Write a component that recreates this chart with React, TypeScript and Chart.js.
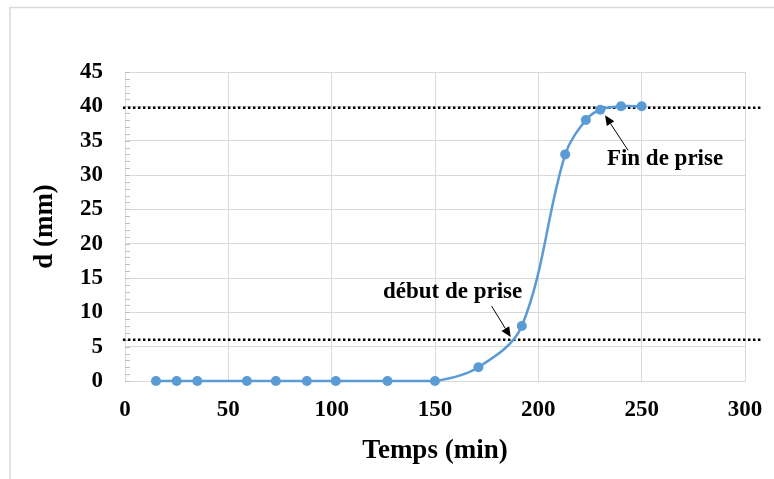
import React, { useEffect, useRef } from "react";
import { Chart, registerables } from "chart.js";

Chart.register(...registerables);

// Data
const times = [15, 25, 35, 59, 73, 88, 102, 127, 150, 171, 192, 213, 223, 230, 240, 250];
const depth = [0, 0, 0, 0, 0, 0, 0, 0, 0, 2, 8, 33, 38, 39.5, 40, 40];

const xAxisTitle = "Temps (min)";
const yAxisTitle = "d (mm)";

// Horizontal dotted reference levels (d, mm) and their span on the time axis
const refLevels = [39.8, 6];
const refSpan = [-1, 308.5];

// Annotations (data space)
const noteLabels = ["début de prise", "Fin de prise"];
const noteTextX = [158.5, 261.3];
const noteTextY = [13.0, 32.3];
const arrowFromX = [177.4, 243.4];
const arrowFromY = [10.9, 33.6];
const arrowToX = [186.6, 232.3];
const arrowToY = [6.4, 38.7];

const SERIF = "'Liberation Serif', 'Times New Roman', serif";
const BLUE = "#5B9BD5";
const GRID = "#d9d9d9";

const decorPlugin = {
  id: "decor",
  beforeDraw(chart: any) {
    const ctx = chart.ctx;
    ctx.save();
    ctx.strokeStyle = GRID;
    ctx.lineWidth = 1.5;
    ctx.beginPath();
    ctx.moveTo(10, chart.height);
    ctx.lineTo(10, 7.5);
    ctx.lineTo(chart.width, 7.5);
    ctx.stroke();
    ctx.restore();
  },
  beforeDatasetsDraw(chart: any) {
    const ctx = chart.ctx;
    const xs = chart.scales.x;
    const ys = chart.scales.y;
    ctx.save();
    // minor ticks on y axis
    ctx.strokeStyle = "#bfbfbf";
    ctx.lineWidth = 1;
    const left = chart.chartArea.left;
    for (let v = ys.min; v <= ys.max; v += 1) {
      const py = Math.round(ys.getPixelForValue(v)) + 0.5;
      ctx.beginPath();
      ctx.moveTo(left, py);
      ctx.lineTo(left + 5, py);
      ctx.stroke();
    }
    // dotted reference lines
    ctx.strokeStyle = "#000";
    ctx.lineWidth = 2.5;
    ctx.setLineDash([2.5, 2.5]);
    refLevels.forEach((lv) => {
      const py = ys.getPixelForValue(lv);
      ctx.beginPath();
      ctx.moveTo(xs.getPixelForValue(refSpan[0]), py);
      ctx.lineTo(xs.getPixelForValue(refSpan[1]), py);
      ctx.stroke();
    });
    ctx.restore();
  },
  afterDraw(chart: any) {
    const ctx = chart.ctx;
    const xs = chart.scales.x;
    const ys = chart.scales.y;
    ctx.save();
    ctx.fillStyle = "#000";
    ctx.font = `bold 23px ${SERIF}`;
    ctx.textAlign = "center";
    ctx.textBaseline = "middle";
    noteLabels.forEach((t, i) => {
      ctx.fillText(t, xs.getPixelForValue(noteTextX[i]), ys.getPixelForValue(noteTextY[i]));
    });
    ctx.strokeStyle = "#000";
    ctx.lineWidth = 1;
    noteLabels.forEach((_, i) => {
      const x1 = xs.getPixelForValue(arrowFromX[i]);
      const y1 = ys.getPixelForValue(arrowFromY[i]);
      const x2 = xs.getPixelForValue(arrowToX[i]);
      const y2 = ys.getPixelForValue(arrowToY[i]);
      const ang = Math.atan2(y2 - y1, x2 - x1);
      const hl = 10;
      const hw = 4.5;
      const bx = x2 - hl * Math.cos(ang);
      const by = y2 - hl * Math.sin(ang);
      ctx.beginPath();
      ctx.moveTo(x1, y1);
      ctx.lineTo(bx, by);
      ctx.stroke();
      ctx.beginPath();
      ctx.moveTo(x2, y2);
      ctx.lineTo(bx + hw * Math.sin(ang), by - hw * Math.cos(ang));
      ctx.lineTo(bx - hw * Math.sin(ang), by + hw * Math.cos(ang));
      ctx.closePath();
      ctx.fill();
    });
    ctx.restore();
  },
};

export default function App() {
  const ref = useRef<HTMLCanvasElement | null>(null);

  useEffect(() => {
    document.body.style.margin = "0";
    const canvas = ref.current;
    if (!canvas) return;
    const tickFont = { family: SERIF, size: 23, weight: "bold" as const };
    const titleFont = { family: SERIF, size: 27, weight: "bold" as const };
    const chart = new Chart(canvas, {
      type: "line",
      data: {
        datasets: [
          {
            data: times.map((t, i) => ({ x: t, y: depth[i] })),
            borderColor: BLUE,
            backgroundColor: BLUE,
            borderWidth: 2.5,
            pointRadius: 5,
            pointBorderWidth: 0,
            pointBackgroundColor: BLUE,
            tension: 0.35,
            clip: false as any,
          },
        ],
      },
      options: {
        animation: false,
        responsive: false,
        devicePixelRatio: 1,
        layout: { padding: { top: 72, right: 29, left: 0, bottom: 0 } },
        plugins: { legend: { display: false }, tooltip: { enabled: false } },
        scales: {
          x: {
            type: "linear",
            min: 0,
            max: 300,
            ticks: { stepSize: 50, padding: 15, color: "#000", font: tickFont, maxRotation: 0 },
            grid: { color: GRID, drawTicks: false, tickLength: 0 },
            border: { color: GRID },
            title: {
              display: true,
              text: xAxisTitle,
              color: "#000",
              font: titleFont,
              padding: { top: 0, bottom: 12 },
            },
            afterFit: (s: any) => {
              s.height = 98;
              s.paddingLeft = 0;
              s.paddingRight = 0;
            },
          },
          y: {
            type: "linear",
            min: 0,
            max: 45,
            ticks: { stepSize: 5, padding: 22, color: "#000", font: tickFont },
            grid: { color: GRID, drawTicks: false, tickLength: 0 },
            border: { color: GRID },
            title: {
              display: true,
              text: yAxisTitle,
              color: "#000",
              font: titleFont,
              padding: { top: 29, bottom: 0 },
            },
            afterFit: (s: any) => {
              s.width = 125;
              s.paddingTop = 0;
              s.paddingBottom = 0;
            },
          },
        },
      },
      plugins: [decorPlugin],
    });
    return () => chart.destroy();
  }, []);

  return <canvas ref={ref} width={774} height={479} style={{ display: "block" }} />;
}
